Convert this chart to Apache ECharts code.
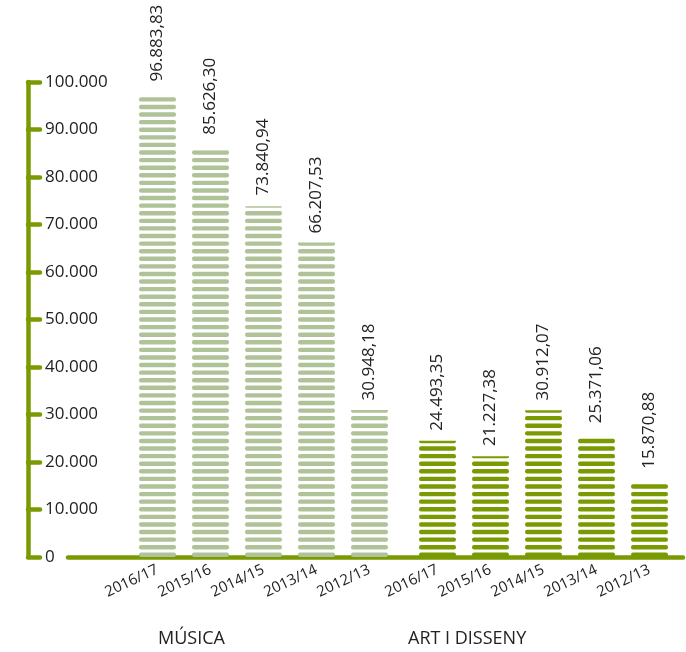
<!DOCTYPE html>
<html>
<head>
<meta charset="utf-8">
<script src="https://cdn.jsdelivr.net/npm/echarts@6/dist/echarts.min.js"></script>
<style>html,body{margin:0;padding:0;background:#fff;}#c{width:686px;height:652px;}</style>
</head>
<body>
<div id="c"></div>
<script>
const categories = ['2016/17', '2015/16', '2014/15', '2013/14', '2012/13'];
const musica = [96883.83, 85626.30, 73840.94, 66207.53, 30948.18];
const art = [24493.35, 21227.38, 30912.07, 25371.06, 15870.88];
const groupNames = ['MÚSICA', 'ART I DISSENY'];
const yMin = 0, yMax = 100000, yInterval = 10000;

const OLIVE = '#7a9a01';
const SAGE = '#afc298';
const FONT = 'Open Sans';

function fmtNum(v) {
  const parts = v.toFixed(2).split('.');
  const intPart = parts[0].replace(/\B(?=(\d{3})+(?!\d))/g, '.');
  return intPart + ',' + parts[1];
}
function fmtTick(v) {
  if (v === 0) return '0';
  return String(v).replace(/\B(?=(\d{3})+(?!\d))/g, '.');
}

const TOP = 82, BOTTOM = 95;
const stripe = 'path://M2,0 L35,0 A2,2 0 0 1 35,4 L2,4 A2,2 0 0 1 2,0 Z';

function barSeries(idx, data, color) {
  return {
    type: 'pictorialBar',
    xAxisIndex: idx, yAxisIndex: idx,
    data: data,
    symbol: stripe,
    symbolRepeat: true,
    symbolBoundingData: yMax,
    symbolSize: [37, 4.4],
    symbolMargin: 1.6,
    symbolClip: true,
    symbolPosition: 'start',
    itemStyle: { color: color },
    label: {
      show: true, position: 'top', rotate: 90, align: 'left', verticalAlign: 'middle',
      distance: 8, color: '#222', fontFamily: FONT, fontSize: 17,
      formatter: p => fmtNum(p.value)
    },
    z: 3
  };
}

const catX = (gi) => ({
  type: 'category', gridIndex: gi, data: categories,
  axisLine: { show: false }, axisTick: { show: false },
  axisLabel: { rotate: 25, margin: 12, color: '#222', fontFamily: FONT, fontSize: 15, interval: 0 }
});
const hiddenY = (gi) => ({
  type: 'value', gridIndex: gi, min: yMin, max: yMax, interval: yInterval, show: false
});

const chart = echarts.init(document.getElementById('c'), null, { renderer: 'canvas' });
chart.setOption({
  animation: false,
  backgroundColor: '#fff',
  title: [
    { text: groupNames[0], left: 158, top: 630, padding: 0, textStyle: { fontFamily: FONT, fontSize: 18, fontWeight: 'normal', color: '#222' } },
    { text: groupNames[1], left: 408, top: 630, padding: 0, textStyle: { fontFamily: FONT, fontSize: 18, fontWeight: 'normal', color: '#222' } }
  ],
  grid: [
    { left: 68, right: 3, top: TOP, bottom: BOTTOM },
    { left: 131, width: 265, top: TOP, bottom: BOTTOM },
    { left: 411, width: 265, top: TOP, bottom: BOTTOM }
  ],
  xAxis: [
    { type: 'value', gridIndex: 0, min: 0, max: 1,
      axisLine: { show: true, onZero: false, lineStyle: { color: OLIVE, width: 4.5, cap: 'round' } },
      axisTick: { show: false }, axisLabel: { show: false }, splitLine: { show: false } },
    catX(1), catX(2)
  ],
  yAxis: [
    { type: 'value', gridIndex: 0, min: yMin, max: yMax, interval: yInterval, offset: 40,
      axisLine: { show: true, onZero: false, lineStyle: { color: OLIVE, width: 4.5 } },
      axisTick: { show: true, inside: true, length: 12, lineStyle: { color: OLIVE, width: 4.5, cap: 'round' } },
      axisLabel: { inside: true, margin: 17, color: '#222', fontFamily: FONT, fontSize: 17, formatter: fmtTick },
      splitLine: { show: false } },
    hiddenY(1), hiddenY(2)
  ],
  series: [
    barSeries(1, musica, SAGE),
    barSeries(2, art, OLIVE)
  ]
});
</script>
</body>
</html>
